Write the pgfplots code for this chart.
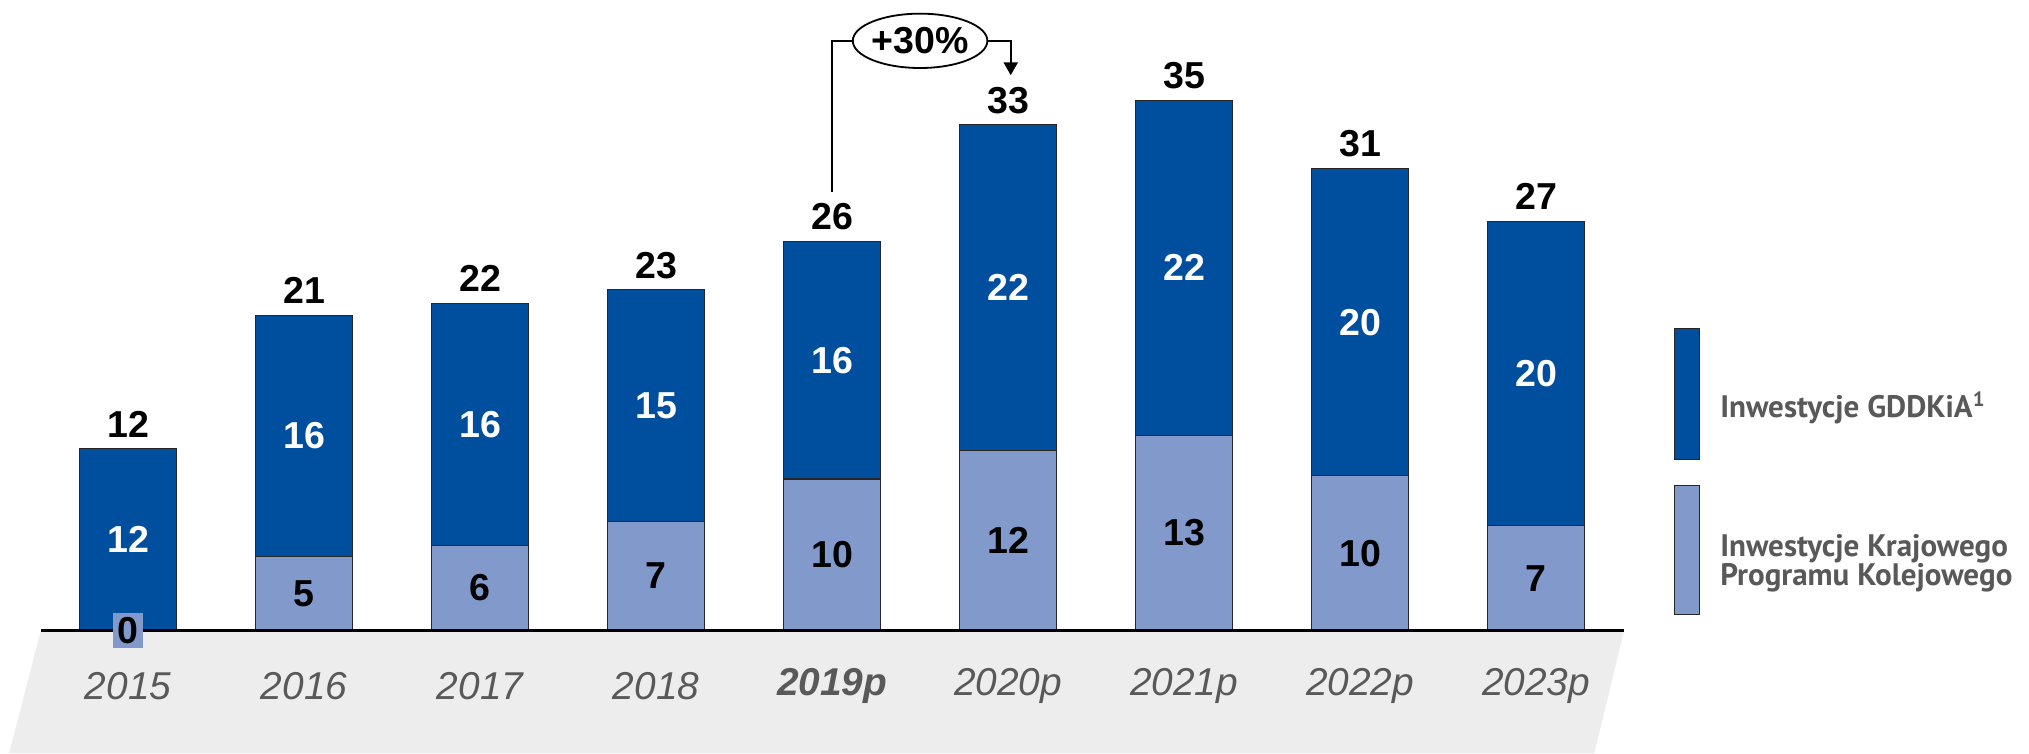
\documentclass[border=0pt]{standalone}
\usepackage{pgfplots}
\pgfplotsset{compat=1.18}
\usepackage{pgfplotstable}
\usepackage{fontspec}
\setmainfont{Liberation Sans}
\newfontfamily\legfont{PT Sans}
\usetikzlibrary{arrows.meta}

\definecolor{gddkia}{RGB}{0,79,158}
\definecolor{kpk}{RGB}{130,153,203}
\definecolor{band}{RGB}{237,237,237}
\definecolor{txtgrey}{RGB}{89,89,89}

\newcommand\lab{\fontsize{14.5}{16}\selectfont\bfseries}
\newcommand\legf{\legfont\fontsize{12}{11.3}\selectfont\bfseries}

% idx, KPK part, total, label positions (segment middles), labels
\pgfplotstableread{
idx L    T    lmid dmid  llab dlab tlab
0   0.0  12.0 0.00 6.00  0    12   12
1   4.9  20.8 2.45 12.85 5    16   21
2   5.6  21.6 2.80 13.60 6    16   22
3   7.2  22.5 3.60 14.85 7    15   23
4   10.0 25.7 5.00 17.85 10   16   26
5   11.9 33.4 5.95 22.65 12   22   33
6   12.9 35.0 6.45 23.95 13   22   35
7   10.2 30.5 5.10 20.35 10   20   31
8   6.9  27.0 3.45 16.95 7    20   27
}\data

\begin{document}
\begin{tikzpicture}
\begin{axis}[
  set layers,
  scale only axis,
  width=784pt, height=291pt,
  xmin=-0.728, xmax=10.801,
  ymin=-8.12, ymax=41.62,
  axis line style={draw=none},
  major tick length=0pt,
  ytick=\empty,
  xtick={0,1,2,3,4,5,6,7,8},
  xticklabels={2015,2016,2017,2018,{\bfseries 2019p},2020p,2021p,2022p,2023p},
  xticklabel style={font=\fontsize{15}{17}\selectfont\itshape, text=txtgrey, anchor=center, yshift=26pt},
  clip=false,
]
% grey floor under the bars
\begin{pgfonlayer}{axis background}
\fill[band] (axis cs:-0.496,0) -- (axis cs:8.50,0) -- (axis cs:8.331,-8.12) -- (axis cs:-0.676,-8.12) -- cycle;
\end{pgfonlayer}
\path (rel axis cs:0,0) rectangle (rel axis cs:1,1);

% total bar (GDDKiA on top), then KPK part over its lower end
\addplot[ybar, bar width=0.555, bar shift=0pt, fill=gddkia, draw=black!85, line width=0.4pt,
  nodes near coords, point meta=explicit symbolic,
  every node near coord/.append style={anchor=base, yshift=4.5pt, font=\lab, text=black}]
  table[x=idx, y=T, meta=tlab] {\data};
\addplot[ybar, bar width=0.555, bar shift=0pt, fill=kpk, draw=black!85, line width=0.4pt]
  table[x=idx, y=L] {\data};

\draw[black, line width=1pt] (axis cs:-0.496,0) -- (axis cs:8.50,0);

% segment labels
\addplot[draw=none, mark=none, nodes near coords, point meta=explicit symbolic,
  every node near coord/.append style={anchor=center, font=\lab, text=white}]
  table[x=idx, y=dmid, meta=dlab] {\data};
\addplot[draw=none, mark=none, nodes near coords, point meta=explicit symbolic,
  every node near coord/.append style={anchor=center, font=\lab, text=black}]
  table[x=idx, y=lmid, meta=llab, skip coords between index={0}{1}] {\data};
\addplot[draw=none, mark=none, nodes near coords, point meta=explicit symbolic,
  every node near coord/.append style={anchor=center, font=\lab, text=black, fill=kpk,
    inner sep=0pt, minimum width=11.5pt, minimum height=13.5pt}]
  coordinates {(0,0) [0]};

% +30% annotation
\draw[black, line width=0.7pt] (axis cs:4,28.97) -- (axis cs:4,38.94) -- (axis cs:4.118,38.94);
\draw[black, line width=0.7pt] (axis cs:4.5,38.94) ellipse [x radius=26pt, y radius=10.5pt];
\node[font=\lab] at (axis cs:4.5,38.94) {+30\%};
\draw[black, line width=0.7pt, -{Triangle[width=5.5pt,length=5pt]}]
  (axis cs:4.882,38.94) -- (axis cs:5.015,38.94) -- (axis cs:5.015,36.67);

% legend
\filldraw[fill=gddkia, draw=black!85, line width=0.4pt] (axis cs:8.787,11.28) rectangle (axis cs:8.926,19.91);
\filldraw[fill=kpk, draw=black!85, line width=0.4pt] (axis cs:8.787,1.03) rectangle (axis cs:8.926,9.57);
\node[anchor=west, inner sep=0pt, font=\legf, text=txtgrey] at (axis cs:9.044,14.70) {Inwestycje GDDKiA\textsuperscript{1}};
\node[anchor=west, inner sep=0pt, align=left, font=\legf, text=txtgrey] at (axis cs:9.044,4.44) {Inwestycje Krajowego\\Programu Kolejowego};
\end{axis}
\end{tikzpicture}
\end{document}
